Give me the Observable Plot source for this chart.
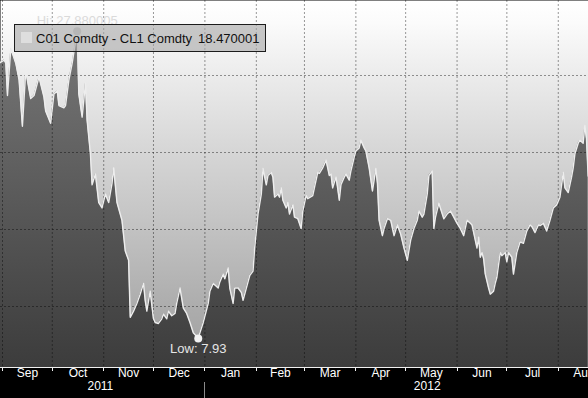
<!DOCTYPE html>
<html>
<head>
<meta charset="utf-8">
<script src="https://cdn.jsdelivr.net/npm/d3@7"></script>
<script src="https://cdn.jsdelivr.net/npm/@observablehq/plot@0.6"></script>
<style>
html, body { margin: 0; padding: 0; background: #000; }
#wrap { position: relative; width: 588px; height: 398px; overflow: hidden; }
#legend { position: absolute; left: 14px; top: 24px; width: 250px; height: 26px;
  border: 1px solid #1c1c1c; background: rgba(165,165,165,0.6);
  font: 13px "Liberation Sans", Arial, sans-serif; color: #111; white-space: nowrap; }
#legend .sw { position: absolute; left: 6px; top: 7px; width: 11px; height: 11px; background: #dedede; }
#legend .tx { position: absolute; left: 21px; top: 1px; line-height: 26px; }
#legend .val { margin-left: 6px; }
</style>
</head>
<body>
<div id="wrap"></div>
<script>
// ---- data (Brent - WTI spread, C01 Comdty - CL1 Comdty) ----
const baseDate = "2011-09-01";            // day 0
const dayOffsets = [
  -2, 1, 2, 3, 5, 8, 10, 12, 14, 17,
  19, 22, 25, 26, 29, 31, 33, 34, 37, 38,
  40, 42, 45, 46, 48, 50, 51, 53, 54, 56,
  58, 60, 62, 64, 66, 67, 69, 72, 74, 76,
  77, 79, 81, 83, 85, 86, 87, 89, 91, 92,
  94, 96, 97, 99, 100, 102, 104, 105, 107, 109,
  111, 113, 115, 118, 119, 121, 124, 125, 127, 130,
  131, 133, 134, 136, 137, 139, 140, 142, 144, 145,
  148, 149, 151, 152, 154, 156, 157, 159, 160, 162,
  163, 164, 166, 167, 168, 169, 171, 172, 173, 175,
  176, 178, 180, 181, 183, 184, 187, 188, 190, 191,
  193, 195, 196, 197, 198, 199, 201, 202, 203, 204,
  206, 207, 209, 210, 212, 213, 215, 216, 218, 219,
  221, 223, 224, 225, 226, 227, 229, 230, 232, 234,
  236, 238, 240, 242, 244, 246, 248, 250, 251, 253,
  254, 256, 257, 259, 260, 261, 263, 266, 268, 270,
  272, 274, 276, 278, 280, 282, 283, 285, 286, 287,
  288, 289, 290, 291, 293, 294, 296, 297, 298, 300,
  301, 303, 304, 305, 307, 308, 310, 312, 314, 316,
  318, 319, 321, 323, 324, 326, 328, 330, 332, 334,
  336, 338, 339, 341, 343, 344, 345, 347, 348, 350,
  351, 352, 353
];
const spread = [
  25.8, 26.0, 25.8, 23.7, 26.75, 25.8, 24.7, 21.7, 25.3, 23.5,
  23.7, 24.9, 23.6, 22.7, 21.9, 23.8, 24.0, 23.05, 22.9, 23.05,
  24.7, 25.8, 27.88, 23.8, 22.3, 24.5, 22.1, 19.9, 17.9, 18.6,
  16.75, 16.4, 17.3, 16.75, 18.0, 19.0, 16.75, 15.6, 13.6, 13.0,
  9.3, 9.7, 10.2, 10.8, 11.5, 10.4, 9.7, 11.0, 9.2, 8.96,
  8.9, 9.2, 9.5, 9.2, 9.7, 9.4, 9.55, 10.2, 11.2, 9.9,
  9.55, 8.96, 8.3, 7.93, 8.3, 8.96, 10.2, 11.0, 11.5, 11.2,
  11.6, 12.1, 11.8, 12.5, 11.2, 10.2, 11.2, 11.2, 10.9, 10.4,
  11.6, 12.0, 12.3, 13.8, 16.0, 17.3, 18.96, 17.9, 18.5, 18.7,
  18.4, 17.1, 17.3, 17.1, 17.7, 16.9, 16.4, 16.75, 16.0, 16.6,
  15.8, 15.7, 15.06, 16.2, 17.2, 17.0, 17.2, 17.7, 18.7, 18.65,
  19.0, 19.5, 19.0, 18.5, 18.6, 17.7, 18.4, 17.7, 16.9, 17.9,
  18.4, 18.6, 18.2, 18.8, 19.7, 20.1, 20.3, 20.8, 20.3, 20.1,
  19.0, 17.5, 18.2, 18.96, 18.0, 15.6, 14.6, 15.06, 15.7, 15.6,
  14.6, 15.3, 14.7, 13.8, 13.0, 14.3, 15.06, 15.6, 16.2, 15.8,
  16.0, 17.3, 18.5, 18.8, 15.06, 15.8, 16.7, 15.7, 16.0, 16.2,
  15.8, 15.4, 15.06, 14.6, 15.6, 15.4, 15.3, 14.3, 13.8, 14.5,
  13.2, 13.5, 13.1, 12.1, 11.2, 10.8, 11.0, 11.5, 11.9, 13.5,
  13.3, 13.5, 12.9, 13.5, 13.2, 12.1, 13.5, 14.2, 14.1, 14.9,
  15.3, 15.2, 14.8, 15.3, 15.25, 15.4, 14.9, 15.6, 16.4, 16.6,
  17.1, 18.7, 17.7, 17.4, 18.4, 19.0, 19.9, 20.6, 20.8, 20.6,
  21.75, 20.9, 18.47
];
const seriesName = "C01 Comdty - CL1 Comdty";
const lastValueText = "18.470001";
const hiText = "Hi: 27.880005";
const lowText = "Low: 7.93";
const monthStarts = ["2011-09-01","2011-10-01","2011-11-01","2011-12-01","2012-01-01","2012-02-01",
  "2012-03-01","2012-04-01","2012-05-01","2012-06-01","2012-07-01","2012-08-01","2012-09-01"];
const monthLabels = ["Sep","Oct","Nov","Dec","Jan","Feb","Mar","Apr","May","Jun","Jul","Aug"];
const yearLabels = ["2011","2012"];
const yearLabelDates = ["2011-10-30","2012-05-14"];
const yearBoundary = "2012-01-01";
const gridValues = [10, 15, 20, 25];
const xDomain = ["2011-08-30T19:00Z", "2012-08-19T05:15Z"];
const yDomain = [6.04, 29.87];

// ---- build ----
const DAY = 864e5;
const base = new Date(baseDate + "T00:00Z").getTime();
const data = dayOffsets.map((d, i) => ({date: new Date(base + d * DAY), value: spread[i]}));
const hi = data.reduce((a, b) => b.value > a.value ? b : a);
const lo = data.reduce((a, b) => b.value < a.value ? b : a);
const mStarts = monthStarts.map(s => new Date(s + "T00:00Z"));
const gridDates = mStarts.slice(0, -1);
const monthMid = monthLabels.map((m, i) => new Date((mStarts[i].getTime() + mStarts[i + 1].getTime()) / 2));
const font = "'Liberation Sans', Arial, sans-serif";

function defsMark() {
  const ns = "http://www.w3.org/2000/svg";
  const defs = document.createElementNS(ns, "defs");
  const mk = (id, stops) => {
    const g = document.createElementNS(ns, "linearGradient");
    g.setAttribute("id", id);
    g.setAttribute("gradientUnits", "userSpaceOnUse");
    g.setAttribute("x1", 0); g.setAttribute("x2", 0);
    g.setAttribute("y1", 0); g.setAttribute("y2", 367);
    for (const [o, c] of stops) {
      const s = document.createElementNS(ns, "stop");
      s.setAttribute("offset", o); s.setAttribute("stop-color", c);
      g.appendChild(s);
    }
    defs.appendChild(g);
  };
  mk("bgGrad", [[0, "#ffffff"], [0.06, "#fbfbfb"], [0.2, "#ececec"], [0.4, "#d7d7d7"], [0.6, "#c4c4c4"], [0.8, "#b0b0b0"], [1, "#9e9e9e"]]);
  mk("areaGrad", [[0, "#7e7e7e"], [0.2, "#707070"], [0.4, "#636363"], [0.6, "#565656"], [0.8, "#494949"], [1, "#3c3c3c"]]);
  return defs;
}

function bandMark(index, scales, values, dims) {
  const g = d3.create("svg:g");
  const yb = dims.height - dims.marginBottom;
  g.append("line").attr("x1", 0).attr("x2", dims.width).attr("y1", yb + 0.5).attr("y2", yb + 0.5)
    .attr("stroke", "#f0f0f0");
  for (const m of gridDates) {
    const xx = Math.round(scales.x(m)) + 0.5;
    g.append("line").attr("x1", xx).attr("x2", xx).attr("y1", yb).attr("y2", yb + 4).attr("stroke", "#f0f0f0");
  }
  const xs = Math.round(scales.x(new Date(yearBoundary + "T00:00Z"))) + 0.5;
  g.append("line").attr("x1", xs).attr("x2", xs).attr("y1", yb + 15).attr("y2", dims.height).attr("stroke", "#8a8a8a");
  return g.node();
}

const chart = Plot.plot({
  width: 588, height: 398,
  marginTop: 0, marginRight: 0, marginBottom: 31, marginLeft: 0,
  style: {background: "#000", fontFamily: font},
  x: {type: "utc", domain: xDomain.map(s => new Date(s)), axis: null},
  y: {domain: yDomain, axis: null},
  marks: [
    defsMark,
    Plot.frame({fill: "url(#bgGrad)", stroke: "none"}),
    Plot.areaY(data, {x: "date", y1: yDomain[0], y2: "value", fill: "url(#areaGrad)", clip: true}),
    Plot.ruleX(gridDates, {stroke: "#000", strokeOpacity: 0.4, strokeDasharray: "2,2"}),
    Plot.ruleY(gridValues, {stroke: "#000", strokeOpacity: 0.4, strokeDasharray: "2,2"}),
    Plot.line(data, {x: "date", y: "value", stroke: "#ededed", strokeWidth: 1.4, clip: true}),
    Plot.dot([hi], {x: "date", y: "value", r: 4, fill: "#d0d0d0"}),
    Plot.text([hi], {x: "date", y: "value", text: () => hiText, dy: -10, fill: "#dadada", fontSize: 13}),
    Plot.dot([lo], {x: "date", y: "value", r: 4, fill: "#f2f2f2"}),
    Plot.text([lo], {x: "date", y: "value", text: () => lowText, dy: 10, fill: "#e6e6e6", fontSize: 13}),
    bandMark,
    Plot.text(monthLabels, {x: (d, i) => monthMid[i], text: d => d, frameAnchor: "bottom", dy: 9, fill: "#ffffff", fontSize: 12}),
    Plot.text(yearLabels, {x: (d, i) => new Date(yearLabelDates[i] + "T00:00Z"), text: d => d, frameAnchor: "bottom", dy: 22, fill: "#ffffff", fontSize: 12})
  ]
});

const wrap = document.getElementById("wrap");
wrap.appendChild(chart);
const legend = document.createElement("div");
legend.id = "legend";
legend.innerHTML = '<div class="sw"></div><div class="tx"></div>';
legend.querySelector(".tx").innerHTML = seriesName + '<span class="val">' + lastValueText + '</span>';
wrap.appendChild(legend);
</script>
</body>
</html>
